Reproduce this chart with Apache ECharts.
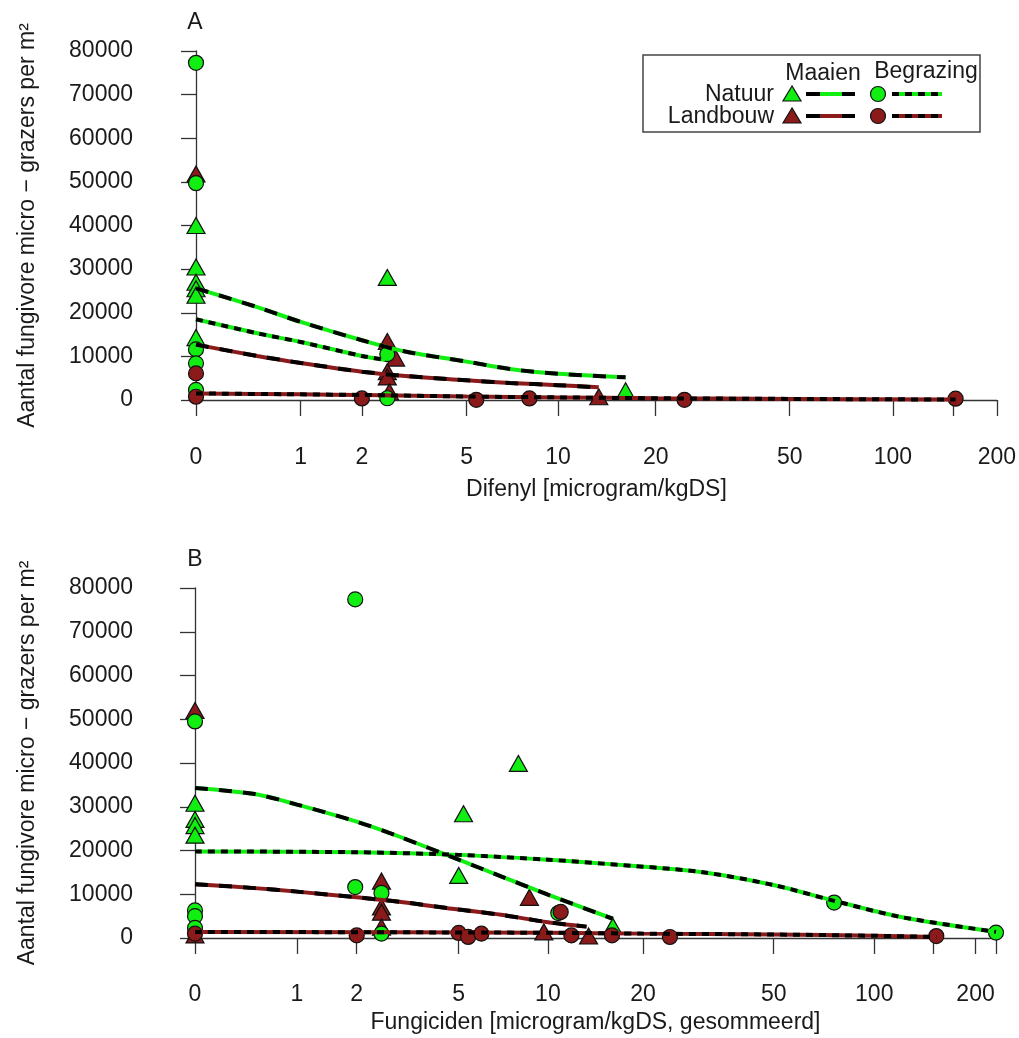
<!DOCTYPE html>
<html>
<head>
<meta charset="utf-8">
<script src="https://cdn.jsdelivr.net/npm/echarts@6/dist/echarts.min.js"></script>
<style>
  html, body { margin: 0; padding: 0; background: #fff; }
  #chart { width: 1019px; height: 1038px; }
</style>
</head>
<body>
<div id="chart"></div>
<script>
// ---- data (x in microgram/kgDS, y in aantal per m2) ----
// panel A: Difenyl
var natMaaienA_x = [0, 0, 0, 0, 0, 0, 2.55, 16.2];
var natMaaienA_y = [40000, 30500, 27000, 25500, 24000, 14300, 28100, 2100];
var natBegrazingA_x = [0, 0, 0, 0, 0, 2.55, 2.55];
var natBegrazingA_y = [77300, 49700, 11600, 8400, 2300, 10500, 400];
var lbMaaienA_x = [0, 2.55, 2.75, 2.55, 2.55, 2.6, 13.4];
var lbMaaienA_y = [51800, 13400, 9600, 6500, 5300, 1900, 750];
var lbBegrazingA_x = [0, 0, 2.0, 5.4, 8.1, 24.4, 152];
var lbBegrazingA_y = [6100, 750, 350, 50, 350, 50, 300];

// fitted curves panel A
var fitNatMaaienA_x = [0, 0.5, 1, 2, 3, 5, 7, 10, 16.2];
var fitNatMaaienA_y = [25600, 21300, 17900, 13700, 11100, 8800, 7100, 6000, 5200];
var fitNatBegrazingA_x = [0, 0.5, 1, 2, 2.5];
var fitNatBegrazingA_y = [18500, 15300, 13300, 10100, 9200];
var fitLbMaaienA_x = [0, 0.5, 1, 2, 3, 5, 7, 10, 13.4];
var fitLbMaaienA_y = [12700, 10100, 8500, 6500, 5500, 4500, 3900, 3400, 2900];
var fitLbBegrazingA_x = [0, 1, 2, 5, 10, 20, 50, 152];
var fitLbBegrazingA_y = [1500, 1300, 1150, 800, 600, 400, 250, 100];

// panel B: Fungiciden (gesommeerd)
var natMaaienB_x = [0, 0, 0, 0, 8, 5.2, 5.0, 16.1];
var natMaaienB_y = [30800, 27100, 25700, 23500, 39900, 28400, 14300, 2700];
var natBegrazingB_x = [0, 0, 0, 0, 1.97, 1.97, 2.55, 2.55, 10.8, 75.9, 230];
var natBegrazingB_y = [49500, 6300, 5000, 2300, 77400, 11650, 10300, 1000, 5700, 8100, 1230];
var lbMaaienB_x = [0, 0, 2.55, 2.55, 2.55, 2.55, 8.7, 9.7, 13.5];
var lbMaaienB_y = [52000, 700, 13000, 7100, 5900, 2500, 9300, 1400, 450];
var lbBegrazingB_x = [0, 2.0, 5.0, 5.4, 6.0, 11, 11.9, 16, 24.2, 153];
var lbBegrazingB_y = [1000, 600, 1150, 250, 1000, 5950, 600, 600, 230, 450];

// fitted curves panel B
var fitNatMaaienB_x = [0, 0.5, 1, 2, 3, 5, 7, 10, 16.1];
var fitNatMaaienB_y = [34300, 32900, 30500, 26600, 23200, 17900, 14100, 9900, 4400];
var fitNatBegrazingB_x = [0, 2, 5, 10, 15, 30, 50, 75, 120, 230];
var fitNatBegrazingB_y = [19800, 19600, 19000, 17900, 17000, 15100, 12100, 8600, 4800, 1400];
var fitLbMaaienB_x = [0, 0.5, 1, 2, 3, 5, 7, 10, 13.3];
var fitLbMaaienB_y = [12300, 11400, 10600, 9300, 8300, 6500, 5300, 3600, 2600];
var fitLbBegrazingB_x = [0, 10, 20, 50, 100, 153];
var fitLbBegrazingB_y = [1400, 1200, 1000, 800, 500, 250];

// axis ticks
var xTicksA = [0, 1, 2, 5, 10, 20, 50, 100, 150, 200];
var xLabelsA = [0, 1, 2, 5, 10, 20, 50, 100, 200];
var xTicksB = [0, 1, 2, 5, 10, 20, 50, 100, 150, 200, 230];
var xLabelsB = [0, 1, 2, 5, 10, 20, 50, 100, 200];

var GREEN = "#11ee11";
var DRED = "#8b1a1a";
var FONT = "Liberation Sans, Arial, sans-serif";
var FS = 23;

// x-as is log10(x + 1)
function tr(v) { return Math.log10(v + 1); }
function pts(xs, ys) {
  return xs.map(function (x, i) { return [tr(x), ys[i]]; });
}
function labelOf(list) {
  return function (val) {
    for (var i = 0; i < list.length; i++) {
      if (Math.abs(tr(list[i]) - val) < 1e-6) return String(list[i]);
    }
    return "";
  };
}

function xAxisFor(gi, ticks, labels, maxV, name, offset, nameGap) {
  return {
    type: "value", gridIndex: gi, min: 0, max: tr(maxV),
    offset: offset,
    name: name, nameLocation: "middle", nameGap: nameGap,
    nameTextStyle: { fontFamily: FONT, fontSize: FS, color: "#1a1a1a" },
    axisLine: { show: true, lineStyle: { color: "#333", width: 1.3 } },
    axisTick: { show: true, length: 16, lineStyle: { color: "#333", width: 1.3 },
      customValues: ticks.map(tr) },
    axisLabel: { margin: 32, fontFamily: FONT, fontSize: FS, color: "#1a1a1a",
      customValues: labels.map(tr), formatter: labelOf(labels) },
    splitLine: { show: false }
  };
}
function yAxisFor(gi, offset) {
  return {
    type: "value", gridIndex: gi, min: 0, max: 80000, interval: 10000,
    offset: offset,
    name: "Aantal fungivore micro \u2212 grazers per m\u00b2",
    nameLocation: "middle", nameGap: 124,
    nameTextStyle: { fontFamily: FONT, fontSize: 23, color: "#1a1a1a" },
    axisLine: { show: true, lineStyle: { color: "#333", width: 1.3 } },
    axisTick: { show: true, length: 15, lineStyle: { color: "#333", width: 1.3 } },
    axisLabel: { margin: 30, fontFamily: FONT, fontSize: FS, color: "#1a1a1a",
      formatter: function (v) { return String(v); } },
    splitLine: { show: false }
  };
}

function scatter(gi, xs, ys, symbol, color) {
  return {
    type: "scatter", xAxisIndex: gi, yAxisIndex: gi, z: 2, clip: false,
    symbol: symbol, symbolSize: symbol === "triangle" ? [18, 16] : 15,
    itemStyle: { color: color, borderColor: "#111", borderWidth: 1.2, opacity: 1 },
    data: pts(xs, ys)
  };
}
// twee-kleurige stippellijn = gekleurde lijn + zwarte streepjes erover
function fit(gi, xs, ys, color, dash) {
  var d = pts(xs, ys);
  return [
    { type: "line", xAxisIndex: gi, yAxisIndex: gi, z: 3, showSymbol: false, silent: true,
      smooth: 0.3, lineStyle: { color: color, width: 4 }, data: d },
    { type: "line", xAxisIndex: gi, yAxisIndex: gi, z: 4, showSymbol: false, silent: true,
      smooth: 0.3, lineStyle: { color: "#000", width: 4, type: dash }, data: d }
  ];
}

var LONG = [13, 11];
var SHORT = [7, 6];

var series = [
  scatter(0, natMaaienA_x, natMaaienA_y, "triangle", GREEN),
  scatter(0, lbMaaienA_x, lbMaaienA_y, "triangle", DRED),
  scatter(0, natBegrazingA_x, natBegrazingA_y, "circle", GREEN),
  scatter(0, lbBegrazingA_x, lbBegrazingA_y, "circle", DRED),
  scatter(1, natMaaienB_x, natMaaienB_y, "triangle", GREEN),
  scatter(1, lbMaaienB_x, lbMaaienB_y, "triangle", DRED),
  scatter(1, natBegrazingB_x, natBegrazingB_y, "circle", GREEN),
  scatter(1, lbBegrazingB_x, lbBegrazingB_y, "circle", DRED)
]
  .concat(fit(0, fitNatMaaienA_x, fitNatMaaienA_y, GREEN, LONG))
  .concat(fit(0, fitNatBegrazingA_x, fitNatBegrazingA_y, GREEN, SHORT))
  .concat(fit(0, fitLbMaaienA_x, fitLbMaaienA_y, DRED, LONG))
  .concat(fit(0, fitLbBegrazingA_x, fitLbBegrazingA_y, DRED, SHORT))
  .concat(fit(1, fitNatMaaienB_x, fitNatMaaienB_y, GREEN, LONG))
  .concat(fit(1, fitNatBegrazingB_x, fitNatBegrazingB_y, GREEN, SHORT))
  .concat(fit(1, fitLbMaaienB_x, fitLbMaaienB_y, DRED, LONG))
  .concat(fit(1, fitLbBegrazingB_x, fitLbBegrazingB_y, DRED, SHORT));

// legenda (alleen paneel A)
function legendRow(y, color) {
  return [
    { type: "polygon", shape: { points: [[792, y - 8], [783, y + 7], [801, y + 7]] },
      style: { fill: color, stroke: "#111", lineWidth: 1.2 } },
    { type: "line", shape: { x1: 806, y1: y, x2: 855, y2: y }, style: { stroke: color, lineWidth: 4 } },
    { type: "line", shape: { x1: 806, y1: y, x2: 855, y2: y },
      style: { stroke: "#000", lineWidth: 4, lineDash: [14, 22] } },
    { type: "circle", shape: { cx: 878, cy: y, r: 7.5 },
      style: { fill: color, stroke: "#111", lineWidth: 1.2 } },
    { type: "line", shape: { x1: 892, y1: y, x2: 942, y2: y }, style: { stroke: color, lineWidth: 4 } },
    { type: "line", shape: { x1: 892, y1: y, x2: 942, y2: y },
      style: { stroke: "#000", lineWidth: 4, lineDash: [7, 6] } }
  ];
}
var txt = function (x, y, s, align) {
  return { type: "text", x: x, y: y,
    style: { text: s, fontFamily: FONT, fontSize: FS, fill: "#1a1a1a",
      align: align || "center", verticalAlign: "middle" } };
};
var graphics = [
  txt(195, 23, "A"),
  txt(195, 560, "B"),
  { type: "rect", shape: { x: 643, y: 55, width: 337, height: 77 },
    style: { fill: "#fff", stroke: "#444", lineWidth: 1.5 } },
  txt(823, 74, "Maaien"),
  txt(926, 72, "Begrazing"),
  txt(774, 95, "Natuur", "right"),
  txt(774, 117, "Landbouw", "right")
].concat(legendRow(94, GREEN)).concat(legendRow(116, DRED));
graphics.forEach(function (g, i) { if (i >= 2) g.z = 10; });

var chart = echarts.init(document.getElementById("chart"), null, { renderer: "canvas" });
chart.setOption({
  animation: false,
  backgroundColor: "#fff",
  textStyle: { fontFamily: FONT },
  grid: [
    { left: 196, top: 51, width: 801, height: 349 },
    { left: 195, top: 588, width: 801, height: 350 }
  ],
  xAxis: [
    xAxisFor(0, xTicksA, xLabelsA, 200, "Difenyl [microgram/kgDS]", 14, 64),
    xAxisFor(1, xTicksB, xLabelsB, 230, "Fungiciden [microgram/kgDS, gesommeerd]", 13, 60)
  ],
  yAxis: [yAxisFor(0, 33), yAxisFor(1, 32)],
  series: series,
  graphic: graphics
});
</script>
</body>
</html>
